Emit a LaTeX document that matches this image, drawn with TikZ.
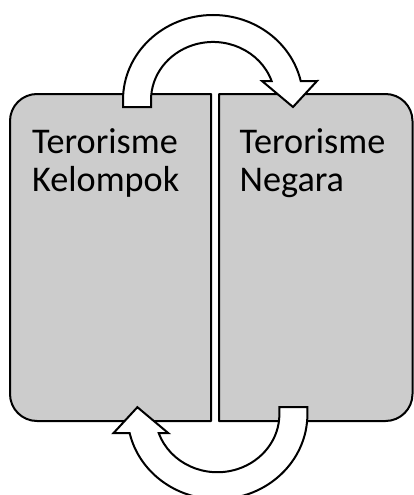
\documentclass[tikz,border=0pt]{standalone}
\usepackage{fontspec}
\setmainfont{Carlito}
\begin{document}
\begin{tikzpicture}[x=1pt,y=-1pt,
  boxsty/.style={draw=black,line width=2pt,fill=boxgray,line join=round},
  arrowsty/.style={draw=black,line width=2pt,fill=white,line join=miter},
  lbl/.style={anchor=base west,align=left,inner sep=0pt,font=\fontsize{36.2}{38}\selectfont}]
\definecolor{boxgray}{HTML}{CCCCCC}
\useasboundingbox (0,0) rectangle (414,495);
\clip (0,0) rectangle (414,495);
% boxes
\draw[boxsty] (211,94) -- (37,94) arc[start angle=270,end angle=180,radius=27] -- (10,394) arc[start angle=180,end angle=90,radius=27] -- (211,421) -- cycle;
\draw[boxsty] (219,94) -- (385.5,94) arc[start angle=270,end angle=360,radius=27] -- (412.5,394) arc[start angle=0,end angle=90,radius=27] -- (219,421) -- cycle;
\node[lbl] (kel) at (32,191.7) {Terorisme\\Kelompok};
\node[lbl] (neg) at (239.5,191.7) {Terorisme\\Negara};
% arrows
\def\arrowpath{(123,107) -- (123,100) arc[start angle=180,end angle=347.1,x radius=90,y radius=85] -- (317,81) -- (293,107) -- (262,81) -- (271.6,81) arc[start angle=340.9,end angle=180,x radius=62,y radius=58] -- (151,107) -- cycle}
\draw[arrowsty] \arrowpath;
\begin{scope}[rotate around={180:(215.2,257.1)}]
\draw[arrowsty] \arrowpath;
\end{scope}
\end{tikzpicture}
\end{document}
